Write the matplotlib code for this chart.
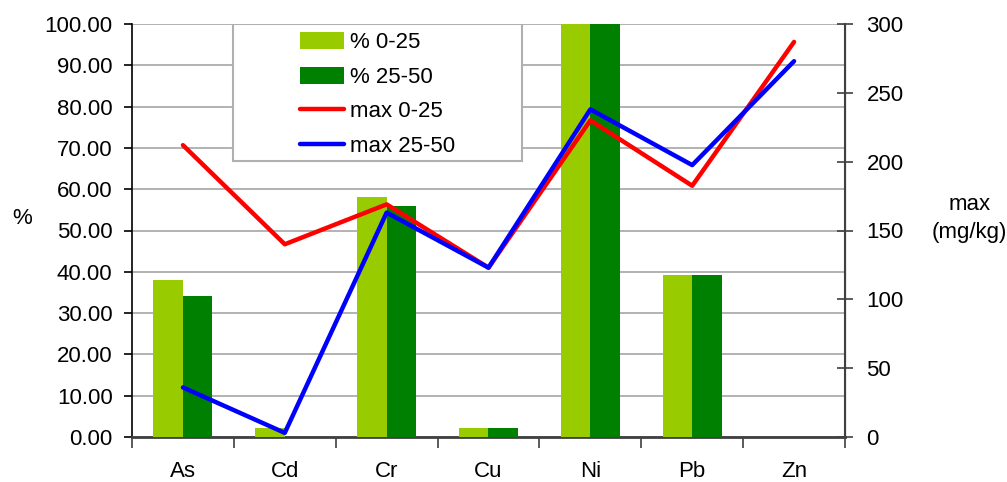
import matplotlib
matplotlib.use("Agg")
import matplotlib.pyplot as plt
import numpy as np
from matplotlib.patches import Rectangle, Patch
from matplotlib.lines import Line2D

# Metals and the values per depth interval
metals = ["As", "Cd", "Cr", "Cu", "Ni", "Pb", "Zn"]
pct_0_25 = [38.0, 2.2, 58.1, 2.1, 100.0, 39.2, 0.0]
pct_25_50 = [34.1, 0.0, 56.0, 2.1, 100.0, 39.2, 0.0]
max_0_25 = [212, 140, 169, 123, 230, 182.5, 287]
max_25_50 = [36, 3, 163, 123, 238, 197.5, 273]

left_ticks = [0, 10, 20, 30, 40, 50, 60, 70, 80, 90, 100]
right_ticks = [0, 50, 100, 150, 200, 250, 300]

LIGHT = "#99CC00"
DARK = "#008000"
FONT = ["Liberation Sans", "DejaVu Sans"]
FS = 16

plt.rcParams["font.family"] = FONT

fig = plt.figure(figsize=(10.07, 4.82), dpi=100)
ax = fig.add_axes([132 / 1007, 45 / 482, (845 - 132) / 1007, (437 - 24) / 482])
ax2 = ax.twinx()

x = np.arange(len(metals))
bw = 0.29
ax.bar(x - bw / 2, pct_0_25, width=bw, color=LIGHT, zorder=3)
ax.bar(x + bw / 2, pct_25_50, width=bw, color=DARK, zorder=3)

ax.set_ylim(0, 100)
ax.set_xlim(-0.5, len(metals) - 0.5)
ax.set_yticks(left_ticks)
ax.set_yticklabels([f"{v:.2f}" for v in left_ticks], fontsize=FS)
ax.yaxis.grid(True, color="#A6A6A6", linewidth=1.2, zorder=0)
ax.set_axisbelow(True)

# category labels at centres, tick marks at the boundaries
ax.set_xticks(x)
ax.set_xticklabels(metals, fontsize=FS)
ax.tick_params(axis="x", which="major", length=0, pad=17)
ax.set_xticks(np.arange(-0.5, len(metals)), minor=True)
ax.tick_params(axis="x", which="minor", length=8, width=1.2, color="#404040", direction="out")
ax.tick_params(axis="y", length=6, width=1.2, direction="out", pad=8)

ax.set_ylabel("%", fontsize=FS, rotation=0, va="center", ha="center")
ax.yaxis.set_label_coords(-0.154, 0.53)

ax.spines["top"].set_visible(False)
ax2.spines["top"].set_visible(False)
ax.spines["left"].set_color("black")
ax.spines["left"].set_linewidth(1.2)
ax.spines["bottom"].set_color("#404040")
ax.spines["bottom"].set_linewidth(2)
ax2.spines["right"].set_color("#404040")
ax2.spines["right"].set_linewidth(1.5)
ax2.spines["left"].set_visible(False)
ax2.spines["bottom"].set_visible(False)

ax2.plot(x, max_0_25, color="#FF0000", linewidth=3.2, solid_capstyle="round", zorder=4)
ax2.plot(x, max_25_50, color="#0000FF", linewidth=3.2, solid_capstyle="round", zorder=5)
ax2.set_ylim(0, 300)
ax2.set_yticks(right_ticks)
ax2.set_yticklabels([str(v) for v in right_ticks], fontsize=FS)
ax2.tick_params(axis="y", length=11, width=1.2, direction="inout", pad=10, color="#404040")
ax2.set_ylabel("max\n(mg/kg)", fontsize=FS, rotation=0, va="center", ha="center", linespacing=1.45)
ax2.yaxis.set_label_coords(1.175, 0.53)

# legend box with the entries centred inside
x0 = (233 - 132) / 713
x1 = (522 - 132) / 713
y0 = (437 - 161) / 413
ax2.add_patch(Rectangle((x0, y0), x1 - x0, 1 - y0, transform=ax2.transAxes,
                        facecolor="white", edgecolor="#B0B0B0", linewidth=1.5, zorder=10))
handles = [
    Patch(facecolor=LIGHT, edgecolor="none"),
    Patch(facecolor=DARK, edgecolor="none"),
    Line2D([], [], color="#FF0000", linewidth=3.2, solid_capstyle="round"),
    Line2D([], [], color="#0000FF", linewidth=3.2, solid_capstyle="round"),
]
labels = ["% 0-25", "% 25-50", "max 0-25", "max 25-50"]
leg = ax2.legend(handles, labels, loc="center", bbox_to_anchor=((x0 + x1) / 2, (y0 + 1) / 2 - 0.005),
                 frameon=False, fontsize=FS, handlelength=2.0, handleheight=0.8,
                 handletextpad=0.25, labelspacing=0.6, borderaxespad=0)
leg.set_zorder(11)

fig.savefig("out.png", dpi=100)
